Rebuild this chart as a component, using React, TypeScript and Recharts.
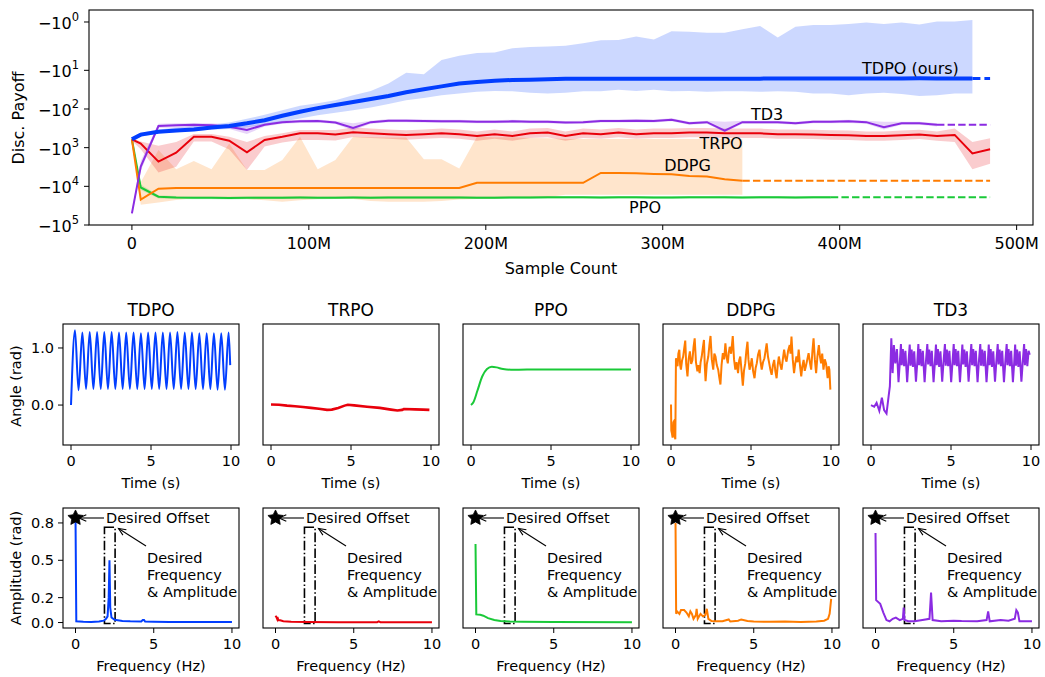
import React from 'react';
import {
  ComposedChart, LineChart, Line, Area, XAxis, YAxis, ReferenceArea, ReferenceDot,
} from 'recharts';

const FONT = "'DejaVu Sans', 'Liberation Sans', sans-serif";
const COLORS = { tdpo: '#023eff', trpo: '#e8000b', ppo: '#1ac938', ddpg: '#ff7c00', td3: '#8b2be2' };

// ---------- top: discounted payoff vs sample count (samples in millions) ----------
const sampleM = [0, 5, 15, 25, 35, 45, 55, 65, 75, 85, 95, 105, 115, 125, 135, 145, 155, 165, 175, 185,
  195, 205, 215, 225, 235, 245, 255, 265, 275, 285, 295, 305, 315, 325, 335, 345, 355, 365, 375, 385,
  395, 405, 415, 425, 435, 445, 455, 465, 475, 485];

const tdpoMean = [-610, -460, -390, -360, -340, -300, -275, -235, -195, -150, -118, -95, -79, -66, -55, -46, -37, -31, -26, -22,
  -20, -18.6, -17.8, -17.4, -17, -16.6, -16.6, -16.5, -16.6, -16.4, -16.5, -16.6, -16.5, -16.4, -16.5, -16.5, -16.4, -16.3, -16.3, -16.2,
  -16.2, -16.3, -16.2, -16.2, -16.2, -16.1, -16.2, -16.2, -16.2, null];
const tdpoHigh = [-540, -410, -340, -300, -275, -250, -225, -180, -140, -107, -83, -71, -59, -44, -34, -22, -11.5, -12.6, -6.1, -5.0,
  -4.4, -4.3, -3.5, -3.3, -3.2, -3.1, -2.75, -2.4, -2.35, -2.0, -2.3, -1.55, -1.6, -1.66, -1.66, -1.41, -1.21, -2.1, -1.25, -1.15,
  -1.15, -1.1, -1.03, -1.1, -1.03, -1.13, -0.98, -0.98, -0.91, null];
const tdpoLow = [-710, -525, -425, -400, -370, -345, -330, -300, -257, -215, -175, -145, -126, -107, -91, -74, -59, -52, -44, -40,
  -36, -34, -35, -38, -40, -38, -35, -35, -32, -34, -32, -35, -34, -36, -35, -35, -36, -35, -36, -40,
  -40, -44, -40, -38, -41, -46, -44, -40, -40, null];

const td3Mean = [-50000, -3100, -275, -263, -257, -263, -288, -347, -257, -219, -209, -204, -224, -309, -219, -200, -200, -204, -209, -209,
  -214, -214, -209, -214, -214, -224, -219, -204, -204, -200, -204, -190, -234, -219, -363, -219, -219, -219, -234, -214,
  -214, -209, -219, -295, -234, -234, -257, null, null, null];
const td3High = [-43000, -2200, -240, -235, -232, -235, -255, -275, -235, -200, -190, -186, -204, -235, -200, -182, -182, -186, -190, -190,
  -195, -195, -190, -195, -195, -204, -200, -186, -186, -182, -186, -173, -213, -200, -214, -200, -200, -200, -213, -195,
  -195, -190, -200, -214, -213, -213, -234, null, null, null];
const td3Low = [-58000, -4000, -310, -300, -295, -300, -330, -440, -285, -240, -230, -224, -246, -360, -240, -220, -220, -224, -230, -230,
  -235, -235, -230, -235, -235, -246, -240, -224, -224, -220, -224, -209, -257, -240, -400, -240, -240, -240, -257, -235,
  -235, -230, -240, -340, -257, -257, -282, null, null, null];

const trpoMean = [-610, -780, -2300, -1350, -525, -525, -660, -1320, -630, -525, -425, -425, -457, -400, -425, -447, -468, -447, -425, -447,
  -500, -447, -500, -425, -407, -500, -425, -447, -407, -447, -425, -425, -407, -407, -425, -425, -425, -447, -447, -457,
  -468, -479, -500, -500, -479, -457, -500, -468, -1410, -1100];
const trpoHigh = [-560, -690, -890, -710, -440, -440, -525, -710, -500, -425, -350, -350, -350, -300, -320, -340, -355, -340, -320, -340,
  -380, -340, -380, -320, -310, -380, -320, -340, -310, -340, -320, -320, -310, -310, -320, -320, -320, -340, -340, -345,
  -355, -360, -380, -380, -360, -345, -380, -320, -710, -575];
const trpoLow = [-660, -1100, -4400, -3100, -690, -690, -1120, -3800, -930, -740, -630, -630, -650, -530, -560, -590, -620, -590, -560, -590,
  -660, -590, -660, -560, -540, -660, -560, -590, -540, -590, -560, -560, -540, -540, -560, -560, -560, -590, -590, -600,
  -620, -630, -660, -660, -630, -600, -660, -710, -3600, -2600];

const ddpgMean = [-610, -22000, -11500, -11000, -11000, -11000, -11000, -11000, -11000, -11000, -11000, -11000, -11000, -11000, -11000, -11000, -11000, -11000, -11000, -11000,
  -8100, -8100, -8100, -8100, -8100, -8100, -8100, -4500, -4500, -4600, -4800, -4900, -5400, -5600, -6600, -7200, null, null, null, null,
  null, null, null, null, null, null, null, null, null, null];
const ddpgHigh = [-610, -7900, -1150, -3600, -2200, -3600, -780, -3800, -3800, -2100, -525, -3600, -2100, -525, -540, -550, -550, -2000, -2000, -3470,
  -525, -540, -540, -560, -575, -600, -600, -600, -600, -600, -600, -600, -600, -600, -600, -600, null, null, null, null,
  null, null, null, null, null, null, null, null, null, null];
const ddpgLow = [-610, -30000, -26000, -22400, -20400, -20000, -20900, -21400, -22900, -25100, -22900, -21400, -20900, -21400, -24000, -25100, -25100, -25100, -24000, -21900,
  -21400, -20900, -20000, -20000, -19000, -16600, -16600, -16600, -16600, -16600, -16600, -16600, -16600, -16600, -16600, -16600, null, null, null, null,
  null, null, null, null, null, null, null, null, null, null];

const ppoMean = [-610, -10700, -18600, -19500, -19800, -19800, -20000, -19800, -19600, -19600, -19500, -19800, -19600, -19500, -19600, -19500, -19400, -19500, -19400, -19500,
  -19600, -19600, -19500, -19500, -19300, -19300, -19300, -19400, -19300, -19300, -19500, -19400, -19300, -19300, -19200, -19400, -19300, -19300, -19400, -19300,
  -19300, null, null, null, null, null, null, null, null, null];
const ppoHigh = [-590, -9000, -17000, -17900, -18200, -18200, -18400, -18200, -18000, -18000, -17900, -18200, -18000, -17900, -18000, -17900, -17800, -17900, -17800, -17900,
  -18000, -18000, -17900, -17900, -17700, -17700, -17700, -17800, -17700, -17700, -17900, -17800, -17700, -17700, -17600, -17800, -17700, -17700, -17800, -17700,
  -17700, null, null, null, null, null, null, null, null, null];
const ppoLow = [-630, -12500, -20500, -21300, -21600, -21600, -21800, -21600, -21400, -21400, -21300, -21600, -21400, -21300, -21400, -21300, -21200, -21300, -21200, -21300,
  -21400, -21400, -21300, -21300, -21000, -21000, -21000, -21200, -21000, -21000, -21300, -21200, -21000, -21000, -20900, -21200, -21000, -21000, -21200, -21000,
  -21000, null, null, null, null, null, null, null, null, null];

const payoffTicks = [-1e5, -1e4, -1e3, -100, -10, -1];

const curveLabels = [
  { text: 'TDPO (ours)', m: 440, payoff: -8.9 },
  { text: 'TD3', m: 359, payoff: -135 },
  { text: 'TRPO', m: 333, payoff: -760 },
  { text: 'DDPG', m: 314, payoff: -2800 },
  { text: 'PPO', m: 290, payoff: -34000 },
];

// ---------- bottom: joint angle traces and their spectra ----------
const algoNames = ['TDPO', 'TRPO', 'PPO', 'DDPG', 'TD3'];

const tdpoAngle = [[0, 0], [0.25, 1.31], [0.47, 0.26], [0.71, 1.27], [0.94, 0.28], [1.17, 1.28], [1.4, 0.28], [1.63, 1.28], [1.86, 0.28],
  [2.08, 1.28], [2.31, 0.28], [2.54, 1.28], [2.77, 0.28], [3.0, 1.27], [3.23, 0.28], [3.45, 1.27], [3.68, 0.28], [3.91, 1.27],
  [4.14, 0.28], [4.37, 1.26], [4.6, 0.28], [4.82, 1.27], [5.05, 0.28], [5.28, 1.27], [5.51, 0.28], [5.74, 1.27], [5.97, 0.28],
  [6.19, 1.27], [6.42, 0.28], [6.65, 1.28], [6.88, 0.28], [7.11, 1.27], [7.34, 0.28], [7.56, 1.27], [7.79, 0.28], [8.02, 1.26],
  [8.25, 0.28], [8.48, 1.26], [8.71, 0.28], [8.93, 1.26], [9.16, 0.27], [9.39, 1.26], [9.62, 0.27], [9.85, 1.27], [9.95, 0.7]];
const trpoAngle = [[0, 0.01], [0.5, 0.005], [1, -0.01], [1.5, -0.02], [2, -0.035], [2.5, -0.05], [3, -0.065], [3.5, -0.085], [3.8, -0.08],
  [4.2, -0.05], [4.6, -0.01], [4.8, 0.005], [5.2, -0.005], [6, -0.03], [6.8, -0.05], [7.5, -0.08], [7.9, -0.095], [8.2, -0.085],
  [8.3, -0.07], [9, -0.075], [9.5, -0.08], [9.9, -0.085]];
const ppoAngle = [[0, 0], [0.15, 0.05], [0.4, 0.25], [0.7, 0.5], [1.0, 0.63], [1.3, 0.67], [1.6, 0.66], [2.0, 0.63], [2.5, 0.62],
  [3, 0.62], [4, 0.625], [10, 0.625]];
const ddpgAngle = [[0, 0.01], [0.02, -0.45], [0.06, -0.5], [0.1, -0.57], [0.15, -0.3], [0.19, -0.28], [0.23, -0.55], [0.27, -0.6],
  [0.31, 0.82], [0.36, 0.72], [0.41, 0.68], [0.46, 0.9], [0.52, 0.97], [0.57, 0.7], [0.62, 0.62], [0.69, 0.78], [0.76, 0.85],
  [0.82, 0.98], [0.89, 1.13], [0.95, 0.72], [1.03, 0.5], [1.1, 0.8], [1.18, 0.94], [1.26, 0.72], [1.34, 0.79], [1.41, 1.02],
  [1.48, 1.17], [1.56, 0.75], [1.65, 0.59], [1.72, 0.7], [1.79, 0.56], [1.85, 0.75], [1.92, 0.85], [1.99, 1.0], [2.06, 1.14],
  [2.11, 0.7], [2.16, 0.42], [2.24, 0.72], [2.33, 0.85], [2.4, 1.05], [2.47, 1.21], [2.55, 0.8], [2.64, 0.62], [2.71, 0.9],
  [2.78, 0.85], [2.86, 0.7], [2.95, 0.62], [3.02, 0.48], [3.09, 0.36], [3.16, 0.7], [3.24, 0.91], [3.32, 0.8], [3.4, 1.08],
  [3.47, 0.85], [3.55, 0.73], [3.61, 0.92], [3.67, 1.02], [3.76, 0.9], [3.86, 1.21], [3.94, 0.8], [4.02, 0.62], [4.1, 0.75],
  [4.19, 0.56], [4.26, 0.78], [4.33, 0.85], [4.41, 0.6], [4.49, 0.34], [4.56, 0.6], [4.64, 0.73], [4.71, 0.95], [4.78, 1.11],
  [4.84, 0.8], [4.91, 0.62], [4.98, 0.7], [5.05, 0.82], [5.13, 0.6], [5.22, 0.47], [5.29, 0.65], [5.36, 0.73], [5.44, 0.88],
  [5.53, 0.97], [5.6, 0.75], [5.67, 0.62], [5.75, 0.75], [5.84, 0.82], [5.91, 0.95], [5.98, 1.08], [6.06, 0.85], [6.14, 0.73],
  [6.21, 0.62], [6.29, 0.53], [6.37, 0.7], [6.45, 0.79], [6.52, 0.6], [6.6, 0.47], [6.67, 0.7], [6.74, 0.85], [6.82, 0.72],
  [6.91, 0.62], [6.99, 0.8], [7.07, 0.97], [7.15, 0.82], [7.22, 0.76], [7.32, 0.95], [7.42, 1.05], [7.47, 0.9], [7.53, 1.2],
  [7.61, 0.8], [7.69, 0.56], [7.76, 0.72], [7.84, 0.85], [7.91, 0.75], [7.98, 0.97], [8.06, 0.7], [8.14, 0.5], [8.21, 0.68],
  [8.29, 0.79], [8.36, 0.6], [8.43, 0.68], [8.52, 0.8], [8.6, 0.91], [8.68, 0.75], [8.76, 0.62], [8.84, 0.95], [8.91, 1.17],
  [8.99, 0.8], [9.07, 0.56], [9.15, 0.85], [9.24, 1.05], [9.31, 0.85], [9.38, 0.73], [9.45, 0.9], [9.53, 0.62], [9.61, 0.8],
  [9.69, 0.73], [9.74, 0.6], [9.79, 0.47], [9.85, 0.68], [9.9, 0.62], [9.96, 0.27]];
const td3Angle = [[0, 0], [0.2, -0.03], [0.35, 0.04], [0.52, -0.1], [0.68, 0.13], [0.82, -0.09], [0.97, -0.15], [1.1, 0.15], [1.18, 0.33],
  [1.27, 1.17], [1.35, 0.56], [1.43, 1.05], [1.52, 0.73], [1.62, 0.98], [1.72, 0.4], [1.8, 0.75],
  [1.87, 1.07], [1.92, 0.7], [1.99, 0.98], [2.07, 0.68], [2.15, 0.95], [2.26, 0.4], [2.34, 0.75],
  [2.42, 1.06], [2.47, 0.69], [2.54, 0.97], [2.62, 0.67], [2.7, 0.94], [2.81, 0.41], [2.89, 0.74],
  [2.96, 1.07], [3.01, 0.7], [3.08, 0.98], [3.16, 0.68], [3.24, 0.95], [3.35, 0.4], [3.43, 0.75],
  [3.52, 1.07], [3.57, 0.71], [3.64, 0.97], [3.72, 0.68], [3.8, 0.95], [3.91, 0.4], [3.99, 0.74],
  [4.06, 1.06], [4.11, 0.7], [4.18, 0.98], [4.26, 0.67], [4.34, 0.94], [4.45, 0.41], [4.53, 0.75],
  [4.62, 1.07], [4.67, 0.69], [4.74, 0.97], [4.82, 0.68], [4.9, 0.95], [5.01, 0.4], [5.09, 0.74],
  [5.17, 1.07], [5.22, 0.7], [5.29, 0.98], [5.37, 0.68], [5.45, 0.95], [5.56, 0.4], [5.64, 0.75],
  [5.71, 1.06], [5.76, 0.71], [5.83, 0.97], [5.91, 0.67], [5.99, 0.94], [6.1, 0.41], [6.18, 0.74],
  [6.27, 1.07], [6.32, 0.7], [6.39, 0.98], [6.47, 0.68], [6.55, 0.95], [6.66, 0.4], [6.74, 0.75],
  [6.83, 1.07], [6.88, 0.69], [6.95, 0.97], [7.03, 0.68], [7.11, 0.95], [7.22, 0.4], [7.3, 0.74],
  [7.36, 1.06], [7.41, 0.7], [7.48, 0.98], [7.56, 0.67], [7.64, 0.94], [7.75, 0.41], [7.83, 0.75],
  [7.92, 1.07], [7.97, 0.71], [8.04, 0.97], [8.12, 0.68], [8.2, 0.95], [8.31, 0.4], [8.39, 0.74],
  [8.48, 1.07], [8.53, 0.7], [8.6, 0.98], [8.68, 0.68], [8.76, 0.95], [8.87, 0.4], [8.95, 0.75],
  [9.01, 1.06], [9.06, 0.69], [9.13, 0.97], [9.21, 0.67], [9.29, 0.94], [9.4, 0.41], [9.48, 0.74],
  [9.57, 1.07], [9.62, 0.7], [9.69, 0.98], [9.77, 0.68], [9.85, 0.95], [9.92, 0.88]];

const tdpoSpectrum = [[0, 0.84], [0.05, 0.01], [0.5, 0.006], [1, 0.005], [1.5, 0.008], [1.8, 0.015], [1.95, 0.03], [2.05, 0.05],
  [2.12, 0.2], [2.17, 0.5], [2.22, 0.12], [2.3, 0.04], [2.5, 0.022], [3, 0.013], [3.5, 0.01], [4.2, 0.008], [4.3, 0.02],
  [4.38, 0.02], [4.45, 0.008], [5, 0.007], [6, 0.005], [8, 0.004], [10, 0.004]];
const trpoSpectrum = [[0, 0.055], [0.05, 0.045], [0.1, 0.03], [0.12, 0.045], [0.18, 0.02], [0.3, 0.018], [0.5, 0.01], [1, 0.006],
  [2, 0.004], [4, 0.003], [6.5, 0.003], [6.6, 0.009], [6.7, 0.003], [8, 0.002], [10, 0.002]];
const ppoSpectrum = [[0, 0.63], [0.05, 0.065], [0.3, 0.062], [0.5, 0.055], [0.8, 0.035], [1.2, 0.02], [1.6, 0.012], [2.2, 0.008],
  [3, 0.006], [5, 0.004], [10, 0.003]];
const ddpgSpectrum = [[0, 0.8], [0.04, 0.07], [0.1, 0.09], [0.25, 0.07], [0.35, 0.1], [0.55, 0.1], [0.7, 0.08], [0.85, 0.05],
  [0.95, 0.09], [1.05, 0.07], [1.15, 0.03], [1.3, 0.06], [1.35, 0.11], [1.42, 0.03], [1.6, 0.07], [1.75, 0.05], [1.9, 0.06],
  [2.0, 0.11], [2.1, 0.03], [2.3, 0.012], [2.6, 0.01], [3, 0.01], [3.4, 0.025], [3.5, 0.008], [4.0, 0.015], [4.2, 0.025],
  [4.6, 0.012], [5, 0.008], [6, 0.006], [7, 0.008], [8, 0.005], [9, 0.008], [9.5, 0.015], [9.75, 0.03], [9.85, 0.07], [9.95, 0.19]];
const td3Spectrum = [[0, 0.72], [0.04, 0.18], [0.3, 0.15], [0.5, 0.08], [0.7, 0.02], [0.9, 0.01], [1.1, 0.03], [1.3, 0.04],
  [1.55, 0.02], [1.75, 0.03], [1.8, 0.12], [1.86, 0.02], [2.1, 0.01], [2.5, 0.01], [3.0, 0.02], [3.45, 0.03], [3.55, 0.24],
  [3.65, 0.02], [4.2, 0.01], [5.0, 0.015], [5.5, 0.012], [6.5, 0.01], [7.1, 0.02], [7.2, 0.09], [7.3, 0.01], [8, 0.02],
  [8.5, 0.015], [8.9, 0.03], [9.0, 0.1], [9.1, 0.08], [9.2, 0.01], [10, 0.01]];

const desiredOffset = { f: 0, amp: 0.84 };
const desiredBand = { f1: 1.85, f2: 2.53, amp: 0.765 };

// ---------- helpers ----------
// axis position of a payoff: log decades, with the -1..-10 decade drawn 1.25x taller
function toU(p: number) {
  const e = Math.log10(-p);
  return e >= 1 ? 5 - e : 4 + 1.25 * (1 - e);
}

const curveSeries = [
  { key: 'ppo', mean: ppoMean, lo: ppoLow, hi: ppoHigh, width: 2 },
  { key: 'ddpg', mean: ddpgMean, lo: ddpgLow, hi: ddpgHigh, width: 2 },
  { key: 'trpo', mean: trpoMean, lo: trpoLow, hi: trpoHigh, width: 2 },
  { key: 'td3', mean: td3Mean, lo: td3Low, hi: td3High, width: 2 },
  { key: 'tdpo', mean: tdpoMean, lo: tdpoLow, hi: tdpoHigh, width: 4 },
];

const curveRows = sampleM.map((m, i) => {
  const row: any = { m };
  curveSeries.forEach((s) => {
    const v = s.mean[i];
    row[s.key] = v == null ? null : toU(v);
    const lo = s.lo[i];
    const hi = s.hi[i];
    row[s.key + 'Band'] = lo == null || hi == null ? null : [toU(lo), toU(hi)];
  });
  return row;
});
// dashed continuation from where each run stops to the end of the axis
curveSeries.forEach((s) => {
  let last = s.mean.length - 1;
  while (last >= 0 && s.mean[last] == null) last--;
  if (last < sampleM.length - 1) {
    const u = toU(s.mean[last] as number);
    curveRows[last][s.key + 'Tail'] = u;
    curveRows[sampleM.length - 1][s.key + 'Tail'] = u;
  }
});

const toRows = (pairs: number[][]) => pairs.map(([x, y]) => ({ x, y }));

const TOP = { left: 89, top: 10, width: 944, height: 215 };
const ROW_TIME = { top: 324, height: 121 };
const ROW_FREQ = { top: 508, height: 120 };
const PANEL_W = 176;
const panelLeft = (i: number) => 63 + 200 * i;
const PAD = { l: 50, t: 6, r: 8, b: 30 };

const PayoffTick = (props: any) => {
  const { x, y, payload } = props;
  const p = payoffTicks.find((t) => Math.abs(toU(t) - payload.value) < 1e-6) ?? -1;
  const exp = Math.round(Math.log10(-p));
  return (
    <text x={x} y={y} dy={7} textAnchor="end" fill="#000" fontSize={16} fontFamily={FONT}>
      −10<tspan dy={-8} fontSize={11.5}>{exp}</tspan>
    </text>
  );
};

const Star = (props: any) => {
  const { cx, cy } = props;
  const pts: string[] = [];
  for (let k = 0; k < 10; k++) {
    const r = k % 2 === 0 ? 8 : 4;
    const a = -Math.PI / 2 + (k * Math.PI) / 5;
    pts.push(`${cx + r * Math.cos(a)},${cy + r * Math.sin(a)}`);
  }
  return <polygon points={pts.join(' ')} fill="#000" stroke="#000" strokeWidth={0.8} />;
};

function Panel({ i, row, data, color, yDomain, yTicks, xDomain, lineType, width, annotate }: any) {
  const left = panelLeft(i);
  return (
    <div style={{ position: 'absolute', left: left - PAD.l, top: row.top - PAD.t }}>
      <LineChart width={PAD.l + PANEL_W + PAD.r} height={PAD.t + row.height + PAD.b} data={data}
        margin={{ top: PAD.t, right: PAD.r, left: 0, bottom: 0 }}>
        <XAxis dataKey="x" type="number" domain={xDomain} ticks={[0, 5, 10]} allowDataOverflow height={PAD.b}
          axisLine={false} tickLine={{ stroke: '#000' }} tickSize={5} tickMargin={6}
          tick={{ fill: '#000', fontSize: 14.5, fontFamily: FONT }} />
        <YAxis type="number" domain={yDomain} ticks={yTicks} allowDataOverflow width={PAD.l}
          axisLine={false} tickLine={{ stroke: '#000' }} tickSize={5} tickMargin={4}
          tickFormatter={(v: number) => v.toFixed(1)}
          tick={i === 0 ? { fill: '#000', fontSize: 14.5, fontFamily: FONT } : false} />
        {annotate && (
          <ReferenceArea x1={desiredBand.f1} x2={desiredBand.f2} y1={-0.008} y2={desiredBand.amp}
            fill="none" stroke="#000" strokeWidth={1.6} strokeDasharray="9.6 2.4 1.5 2.4" ifOverflow="visible" />
        )}
        <Line dataKey="y" type={lineType} stroke={color} strokeWidth={width} dot={false} activeDot={false}
          isAnimationActive={false} />
        {annotate && (
          <ReferenceDot x={desiredOffset.f} y={desiredOffset.amp} r={8} shape={<Star />} ifOverflow="visible" />
        )}
      </LineChart>
    </div>
  );
}

function arrow(x1: number, y1: number, x2: number, y2: number, key: string) {
  const a = Math.atan2(y1 - y2, x1 - x2);
  const L = 8;
  const w = 0.42;
  const h1 = `${x2 + L * Math.cos(a + w)},${y2 + L * Math.sin(a + w)}`;
  const h2 = `${x2 + L * Math.cos(a - w)},${y2 + L * Math.sin(a - w)}`;
  return (
    <g key={key} stroke="#000" strokeWidth={1.1} fill="none">
      <line x1={x1} y1={y1} x2={x2} y2={y2} />
      <polyline points={`${h1} ${x2},${y2} ${h2}`} />
    </g>
  );
}

export default function App() {
  const angleSets = [tdpoAngle, trpoAngle, ppoAngle, ddpgAngle, td3Angle];
  const spectrumSets = [tdpoSpectrum, trpoSpectrum, ppoSpectrum, ddpgSpectrum, td3Spectrum];
  const panelColors = [COLORS.tdpo, COLORS.trpo, COLORS.ppo, COLORS.ddpg, COLORS.td3];
  const angleTypes = ['monotone', 'linear', 'monotone', 'linear', 'linear'];
  const angleWidths = [2, 2.6, 2, 2, 2];

  return (
    <div style={{ position: 'absolute', left: 0, top: 0, width: 1045, height: 677, background: '#fff', fontFamily: FONT }}>
      <div style={{ position: 'absolute', left: 0, top: 0 }}>
        <ComposedChart width={1045} height={270} data={curveRows}
          margin={{ top: TOP.top, right: 1045 - TOP.left - TOP.width, left: 0, bottom: 0 }}>
          <XAxis dataKey="m" type="number" domain={[-24.25, 509.25]} ticks={[0, 100, 200, 300, 400, 500]} allowDataOverflow
            height={270 - TOP.top - TOP.height} axisLine={false} tickLine={{ stroke: '#000' }} tickSize={5} tickMargin={8}
            tickFormatter={(v: number) => (v === 0 ? '0' : `${v}M`)}
            tick={{ fill: '#000', fontSize: 16, fontFamily: FONT }} />
          <YAxis type="number" domain={[0, 5.56]} ticks={payoffTicks.map(toU)} allowDataOverflow width={TOP.left}
            axisLine={false} tickLine={{ stroke: '#000' }} tickSize={5} tickMargin={5}
            tick={(p: any) => <PayoffTick {...p} />} />
          {curveSeries.map((s) => (
            <Area key={s.key + 'Band'} dataKey={s.key + 'Band'} type="linear" stroke="none"
              fill={(COLORS as any)[s.key]} fillOpacity={0.2} isAnimationActive={false} activeDot={false} dot={false} />
          ))}
          {curveSeries.map((s) => (
            <Line key={s.key} dataKey={s.key} type="linear" stroke={(COLORS as any)[s.key]} strokeWidth={s.width}
              dot={false} activeDot={false} isAnimationActive={false} />
          ))}
          {curveSeries.map((s) => (
            <Line key={s.key + 'Tail'} dataKey={s.key + 'Tail'} type="linear" connectNulls
              stroke={(COLORS as any)[s.key]} strokeWidth={s.key === 'tdpo' ? 3 : 2}
              strokeDasharray={s.key === 'tdpo' ? '8 4' : '7.4 3.2'}
              dot={false} activeDot={false} isAnimationActive={false} />
          ))}
          {curveLabels.map((l) => (
            <ReferenceDot key={l.text} x={l.m} y={toU(l.payoff)} r={0} fill="none" stroke="none" ifOverflow="visible"
              label={{ value: l.text, position: 'center', fill: '#000', fontSize: 16, fontFamily: FONT }} />
          ))}
        </ComposedChart>
      </div>

      {algoNames.map((name, i) => (
        <Panel key={'t' + name} i={i} row={ROW_TIME} data={toRows(angleSets[i])} color={panelColors[i]}
          xDomain={[-0.5, 10.5]} yDomain={[-0.7, 1.42]} yTicks={[0, 1]} lineType={angleTypes[i]} width={angleWidths[i]} />
      ))}
      {algoNames.map((name, i) => (
        <Panel key={'f' + name} i={i} row={ROW_FREQ} data={toRows(spectrumSets[i])} color={panelColors[i]}
          xDomain={[-0.8, 10.45]} yDomain={[-0.0438, 0.92]} yTicks={[0, 0.2, 0.5, 0.8]} lineType="linear" width={2}
          annotate />
      ))}

      <svg width={1045} height={677} style={{ position: 'absolute', left: 0, top: 0, pointerEvents: 'none' }}
        fontFamily={FONT} fill="#000">
        <rect x={TOP.left} y={TOP.top} width={TOP.width} height={TOP.height} fill="none" stroke="#000" strokeWidth={1.1} />
        <text x={18} y={118} fontSize={16} textAnchor="middle" dominantBaseline="central" transform="rotate(-90 18 118)">Disc. Payoff</text>
        <text x={561} y={268} fontSize={16} textAnchor="middle" dominantBaseline="central">Sample Count</text>

        <text x={16} y={386} fontSize={14.5} textAnchor="middle" dominantBaseline="central" transform="rotate(-90 16 386)">Angle (rad)</text>
        <text x={16} y={568} fontSize={14.5} textAnchor="middle" dominantBaseline="central" transform="rotate(-90 16 568)">Amplitude (rad)</text>

        {algoNames.map((name, i) => {
          const l = panelLeft(i);
          const c = l + PANEL_W / 2;
          return (
            <g key={'o' + name}>
              <text x={c} y={310} fontSize={17} textAnchor="middle" dominantBaseline="central">{name}</text>
              <rect x={l} y={ROW_TIME.top} width={PANEL_W} height={ROW_TIME.height} fill="none" stroke="#000" strokeWidth={1.1} />
              <rect x={l} y={ROW_FREQ.top} width={PANEL_W} height={ROW_FREQ.height} fill="none" stroke="#000" strokeWidth={1.1} />
              <text x={c} y={483} fontSize={14.5} textAnchor="middle" dominantBaseline="central">Time (s)</text>
              <text x={c} y={666} fontSize={14.5} textAnchor="middle" dominantBaseline="central">Frequency (Hz)</text>
              <text x={l + 43} y={518} fontSize={14.5} dominantBaseline="central">Desired Offset</text>
              <text x={l + 84} y={558} fontSize={14.5} dominantBaseline="central">Desired</text>
              <text x={l + 84} y={575} fontSize={14.5} dominantBaseline="central">Frequency</text>
              <text x={l + 84} y={591.5} fontSize={14.5} dominantBaseline="central">&amp; Amplitude</text>
              {arrow(l + 41, 518, l + 16, 518, 'a1' + name)}
              {arrow(l + 83, 546, l + 55.5, 528.5, 'a2' + name)}
            </g>
          );
        })}
      </svg>
    </div>
  );
}
